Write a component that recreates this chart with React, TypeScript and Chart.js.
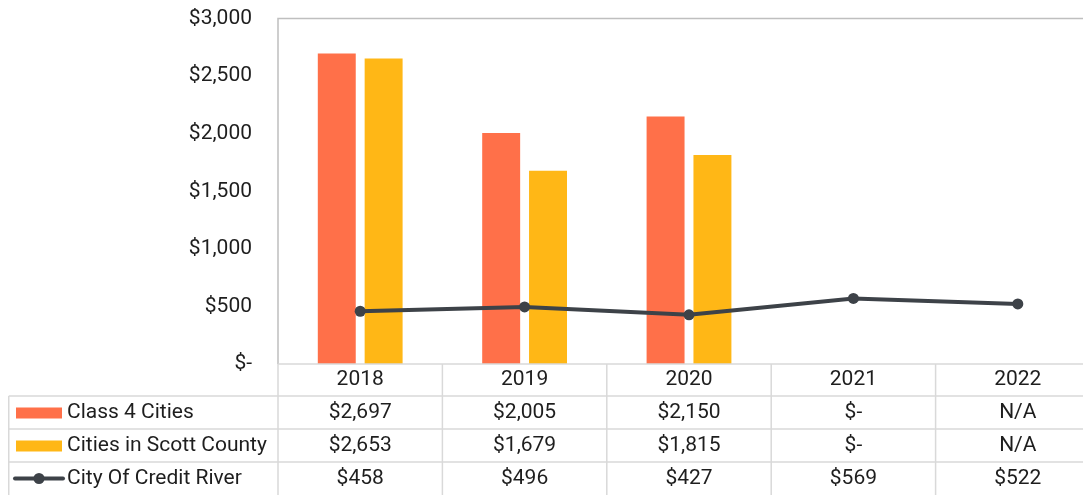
import React, { useEffect, useRef } from 'react';
import { Chart, registerables } from 'chart.js';

Chart.register(...registerables);

const years = ['2018', '2019', '2020', '2021', '2022'];
const class4Cities: (number | null)[] = [2697, 2005, 2150, 0, null];
const scottCounty: (number | null)[] = [2653, 1679, 1815, 0, null];
const creditRiver: (number | null)[] = [458, 496, 427, 569, 522];
const seriesNames = ['Class 4 Cities', 'Cities in Scott County', 'City Of Credit River'];
const yMax = 3000;
const yStep = 500;

const ORANGE = '#FF7049';
const YELLOW = '#FFB716';
const DARK = '#3d4248';
const TEXT = '#1e1e1e';
const FONT = 'Roboto';
const FS = 21;

const fmt = (v: number | null) =>
  v == null ? 'N/A' : v === 0 ? '$-' : '$' + v.toLocaleString('en-US');

const tablePlugin = {
  id: 'dataTable',
  afterDraw(chart: any) {
    const { ctx, chartArea: a } = chart;
    const n = years.length;
    const cw = (a.right - a.left) / n;
    const y0 = a.bottom;
    const y1 = y0 + 32;
    const y2 = y1 + 33;
    const y3 = y2 + 33;
    const y4 = y3 + 40;
    ctx.save();
    // plot frame (left + top)
    ctx.strokeStyle = '#bfbfbf';
    ctx.lineWidth = 1.5;
    ctx.beginPath();
    ctx.moveTo(a.left, y0);
    ctx.lineTo(a.left, a.top);
    ctx.lineTo(a.right, a.top);
    ctx.stroke();
    // table grid
    ctx.strokeStyle = '#d9d9d9';
    ctx.lineWidth = 1.5;
    ctx.beginPath();
    ctx.moveTo(a.left, y0);
    ctx.lineTo(a.right, y0);
    [y1, y2, y3].forEach((y) => {
      ctx.moveTo(0.75, y);
      ctx.lineTo(a.right, y);
    });
    ctx.moveTo(0.75, y1);
    ctx.lineTo(0.75, y4);
    for (let k = 0; k <= n; k++) {
      const x = a.left + k * cw;
      ctx.moveTo(x, y0);
      ctx.lineTo(x, y4);
    }
    ctx.stroke();
    // text
    ctx.fillStyle = TEXT;
    ctx.font = `${FS}px ${FONT}`;
    ctx.textAlign = 'center';
    ctx.textBaseline = 'middle';
    const rows = [class4Cities, scottCounty, creditRiver];
    const rowMid = [(y1 + y2) / 2, (y2 + y3) / 2, (y3 + y3 + 33) / 2];
    for (let i = 0; i < n; i++) {
      const cx = a.left + (i + 0.5) * cw;
      ctx.fillText(years[i], cx, (y0 + y1) / 2);
      rows.forEach((r, j) => ctx.fillText(fmt(r[i]), cx, rowMid[j]));
    }
    // legend keys and names
    ctx.textAlign = 'left';
    ctx.fillStyle = ORANGE;
    ctx.fillRect(8, rowMid[0] - 5, 46, 11);
    ctx.fillStyle = YELLOW;
    ctx.fillRect(8, rowMid[1] - 5, 46, 11);
    ctx.strokeStyle = DARK;
    ctx.lineWidth = 4;
    ctx.lineCap = 'round';
    ctx.beginPath();
    ctx.moveTo(7, rowMid[2]);
    ctx.lineTo(55, rowMid[2]);
    ctx.stroke();
    ctx.fillStyle = DARK;
    ctx.beginPath();
    ctx.arc(31, rowMid[2], 5.5, 0, Math.PI * 2);
    ctx.fill();
    ctx.fillStyle = TEXT;
    seriesNames.forEach((name, j) => ctx.fillText(name, 59, rowMid[j]));
    ctx.restore();
  },
};

export default function App() {
  const ref = useRef<HTMLCanvasElement | null>(null);
  useEffect(() => {
    document.body.style.overflow = 'hidden';
    if (!ref.current) return;
    const chart = new Chart(ref.current, {
      type: 'bar',
      data: {
        labels: years,
        datasets: [
          {
            type: 'line',
            label: seriesNames[2],
            data: creditRiver,
            borderColor: DARK,
            backgroundColor: DARK,
            borderWidth: 4,
            pointRadius: 5.5,
            pointBackgroundColor: DARK,
            pointBorderWidth: 0,
            order: 0,
          } as any,
          {
            label: seriesNames[0],
            data: class4Cities,
            backgroundColor: ORANGE,
            categoryPercentage: 0.57,
            barPercentage: 0.81,
            order: 1,
          },
          {
            label: seriesNames[1],
            data: scottCounty,
            backgroundColor: YELLOW,
            categoryPercentage: 0.57,
            barPercentage: 0.81,
            order: 1,
          },
        ],
      },
      options: {
        responsive: false,
        animation: false,
        layout: { padding: { top: 10, right: 8, bottom: 139, left: 0 } },
        plugins: { legend: { display: false }, tooltip: { enabled: false } },
        scales: {
          x: { display: false, offset: true },
          y: {
            min: 0,
            max: yMax,
            ticks: {
              stepSize: yStep,
              padding: 0,
              color: TEXT,
              font: { size: FS, family: FONT, lineHeight: 1 },
              callback: (v: any) => fmt(Number(v)),
            },
            grid: { display: false, drawTicks: true, tickLength: 26 },
            border: { display: false },
            afterFit: (s: any) => {
              s.width = 270;
            },
          },
        },
      },
      plugins: [tablePlugin],
    });
    return () => chart.destroy();
  }, []);
  return (
    <div style={{ width: 1100, height: 487, overflow: 'hidden' }}>
      <canvas ref={ref} width={1100} height={495} style={{ display: 'block' }} />
    </div>
  );
}
